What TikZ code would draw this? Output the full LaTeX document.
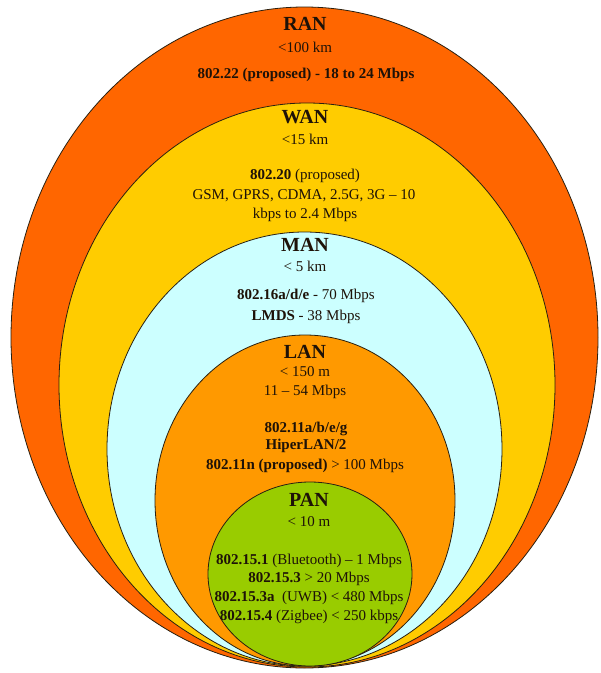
\documentclass[tikz,border=0pt]{standalone}
\usepackage{fontspec}
\setmainfont{Liberation Serif}
\usetikzlibrary{shapes.geometric}
\definecolor{ranc}{HTML}{FF6600}
\definecolor{wanc}{HTML}{FFCC00}
\definecolor{manc}{HTML}{CCFFFF}
\definecolor{lanc}{HTML}{FF9900}
\definecolor{panc}{HTML}{99CC00}
\definecolor{txt}{HTML}{1E1208}
\definecolor{edge}{HTML}{2A2010}
\begin{document}
\begin{tikzpicture}[x=1pt,y=-1pt,
  zone/.style={ellipse, draw=edge, line width=0.8pt, inner sep=0pt},
  ttl/.style={font=\fontsize{20}{22}\selectfont\bfseries, text=txt, inner sep=0pt},
  lbl/.style={font=\fontsize{15}{17}\selectfont, text=txt, inner sep=0pt}]
\useasboundingbox (0,0) rectangle (601,673);
\fill[white] (0,0) rectangle (601,673);
\node[zone, fill=ranc, minimum width=587pt, minimum height=661pt] (ran) at (304.5,337.5) {};
\node[zone, fill=wanc, minimum width=496pt, minimum height=564pt] (wan) at (307,385) {};
\node[zone, fill=manc, minimum width=395pt, minimum height=434pt] (man) at (304.5,449) {};
\node[zone, fill=lanc, minimum width=300pt, minimum height=331pt] (lan) at (305,500.5) {};
\node[zone, fill=panc, minimum width=204pt, minimum height=184pt] (pan) at (310,574) {};
% RAN
\node[ttl] (ranT) at (305,24) {RAN};
\node[lbl] (ranD) at (305,47) {<100 km};
\node[lbl] (ranS) at (306,75) {\bfseries 802.22 (proposed) - 18 to 24 Mbps};
% WAN
\node[ttl] (wanT) at (305,117) {WAN};
\node[lbl] (wanD) at (305,139) {<15 km};
\node[lbl] (wanS1) at (305,176) {\bfseries 802.20 \mdseries(proposed)};
\node[lbl] (wanS2) at (304,196) {GSM, GPRS, CDMA, 2.5G, 3G – 10};
\node[lbl] (wanS3) at (305,215) {kbps to 2.4 Mbps};
% MAN
\node[ttl] (manT) at (305,245) {MAN};
\node[lbl] (manD) at (305,266) {< 5 km};
\node[lbl] (manS1) at (306,296) {\bfseries 802.16a/d/e \mdseries - 70 Mbps};
\node[lbl] (manS2) at (306,317) {\bfseries LMDS \mdseries - 38 Mbps};
% LAN
\node[ttl] (lanT) at (305,352) {LAN};
\node[lbl] (lanD) at (305,372) {< 150 m};
\node[lbl] (lanR) at (305,392) {11 – 54 Mbps};
\node[lbl] (lanS1) at (306,429) {\bfseries 802.11a/b/e/g};
\node[lbl] (lanS2) at (306,446) {\bfseries HiperLAN/2};
\node[lbl] (lanS3) at (305,466) {\bfseries 802.11n (proposed) \mdseries > 100 Mbps};
% PAN
\node[ttl] (panT) at (309,500) {PAN};
\node[lbl] (panD) at (309,522) {< 10 m};
\node[lbl] (panS1) at (309,561) {\bfseries 802.15.1 \mdseries(Bluetooth) – 1 Mbps};
\node[lbl] (panS2) at (309,579) {\bfseries 802.15.3 \mdseries > 20 Mbps};
\node[lbl] (panS3) at (309,598) {\bfseries 802.15.3a \mdseries\ (UWB) < 480 Mbps};
\node[lbl] (panS4) at (309,617) {\bfseries 802.15.4 \mdseries(Zigbee) < 250 kbps};
\end{tikzpicture}
\end{document}
